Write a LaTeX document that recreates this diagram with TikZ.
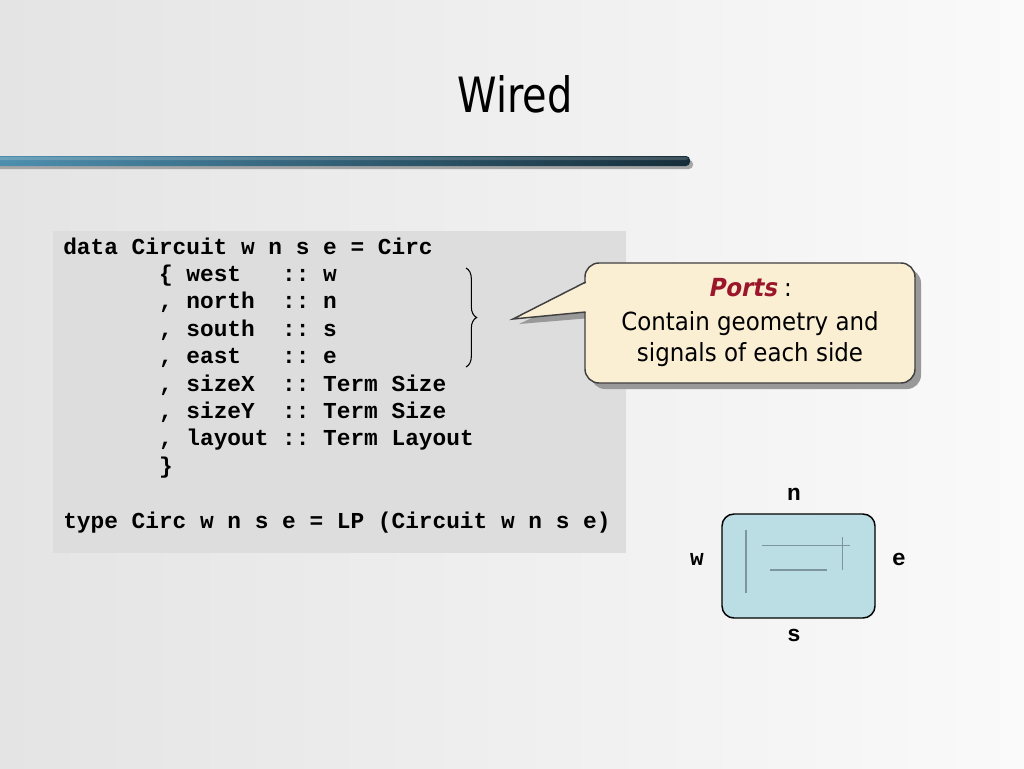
\documentclass[tikz,border=0pt]{standalone}
\usepackage{fontspec}
\setmonofont{Liberation Mono}
\newfontfamily\titlefont[FakeStretch=0.82]{DejaVu Sans}
\newfontfamily\callfont[FakeStretch=0.92]{DejaVu Sans}
\newfontfamily\portsfont[FakeStretch=0.92,FakeSlant=0.2]{DejaVu Sans}
\usetikzlibrary{decorations.pathreplacing}
\definecolor{bgleft}{RGB}{228,228,228}
\definecolor{bgright}{RGB}{250,250,250}
\definecolor{barleft}{RGB}{78,144,176}
\definecolor{barright}{RGB}{22,46,58}
\definecolor{codegray}{RGB}{221,221,221}
\definecolor{callfill}{RGB}{250,238,211}
\definecolor{callborder}{RGB}{64,64,64}
\definecolor{portred}{RGB}{155,22,42}
\definecolor{circfill}{RGB}{186,222,227}
\definecolor{wiregray}{RGB}{125,150,158}
\tikzset{
  codeline/.style={anchor=base west, inner sep=0pt, font=\fontsize{17.1}{20.5}\selectfont\ttfamily\bfseries},
  portlabel/.style={anchor=base, inner sep=0pt, font=\fontsize{17.1}{20.5}\selectfont\ttfamily\bfseries},
  calltext/.style={anchor=base, inner sep=0pt, font=\fontsize{18.7}{24}\selectfont\callfont},
  wire/.style={draw=wiregray, line width=0.8pt},
}
\begin{document}
\begin{tikzpicture}[x=0.75pt,y=-0.75pt]
\useasboundingbox (0,0) rectangle (1024,768);
% background
\shade[left color=bgleft, right color=bgright] (0,0) rectangle (1024,768);
% title
\node[anchor=base, inner sep=0pt, font=\fontsize{36.5}{40}\selectfont\titlefont] (title) at (515,112) {Wired};
% bar
\fill[black!35, rounded corners=3pt] (-10,160) rectangle (693,169);
\shade[left color=barleft, right color=barright, rounded corners=3pt] (-10,156) rectangle (690,166);
\fill[white, opacity=0.18, rounded corners=2pt] (-10,157) rectangle (688,160);
% code box
\node[fill=codegray, minimum width=429.75pt, minimum height=241.5pt, inner sep=0pt] (codebox) at (339.5,392) {};
\node[codeline] (c1) at (63,254) {data~Circuit~w~n~s~e~=~Circ};
\node[codeline] (c2) at (63,281.4) {~~~~~~~\{~west~~~::~w};
\node[codeline] (c3) at (63,308.8) {~~~~~~~,~north~~::~n};
\node[codeline] (c4) at (63,336.2) {~~~~~~~,~south~~::~s};
\node[codeline] (c5) at (63,363.6) {~~~~~~~,~east~~~::~e};
\node[codeline] (c6) at (63,391) {~~~~~~~,~sizeX~~::~Term~Size};
\node[codeline] (c7) at (63,418.4) {~~~~~~~,~sizeY~~::~Term~Size};
\node[codeline] (c8) at (63,445.8) {~~~~~~~,~layout~::~Term~Layout};
\node[codeline] (c9) at (63,473.2) {~~~~~~~\}};
\node[codeline] (c10) at (63,528) {type~Circ~w~n~s~e~=~LP~(Circuit~w~n~s~e)};
% brace
\coordinate (bt) at (466,268);
\coordinate (bb) at (466,367);
\draw[line width=0.8pt, decorate, decoration={brace, amplitude=8pt}] (bt) -- (bb);
% callout shadow
\fill[black!40, rounded corners=10.5pt] (591,269) rectangle (921,389);
\fill[black!40] (591,290) -- (519,324) -- (591,318) -- cycle;
% callout
\node[draw=callborder, line width=1.1pt, fill=callfill, rounded corners=10.5pt, minimum width=247.5pt, minimum height=90pt, inner sep=0pt] (callout) at (750,323) {};
\coordinate (tip) at (513,319);
\coordinate (pu) at (585.7,282);
\coordinate (pl) at (585.7,312);
\fill[callfill] ([xshift=2pt]pu) -- (tip) -- ([xshift=2pt]pl) -- cycle;
\draw[callborder, line width=1.1pt, line join=miter] (pu) -- (tip) -- (pl);
\node[calltext] (t1) at (750,296) {{\color{portred}\portsfont\bfseries Ports}~:};
\node[calltext] (t2) at (750,330) {Contain geometry and};
\node[calltext] (t3) at (750,361) {signals of each side};
% circuit
\node[draw=black, line width=1.1pt, fill=circfill, rounded corners=9pt, minimum width=114.75pt, minimum height=78pt, inner sep=0pt] (circ) at (798.5,566) {};
\draw[wire] (746,530) -- (746,593);
\draw[wire] (762,545.5) -- (850,545.5);
\draw[wire] (842.5,537) -- (842.5,570);
\draw[wire] (770,570) -- (826.5,570);
\node[portlabel] (ln) at (794,500) {n};
\node[portlabel] (lw) at (697,565) {w};
\node[portlabel] (le) at (899,565) {e};
\node[portlabel] (ls) at (794,641) {s};
\end{tikzpicture}
\end{document}
